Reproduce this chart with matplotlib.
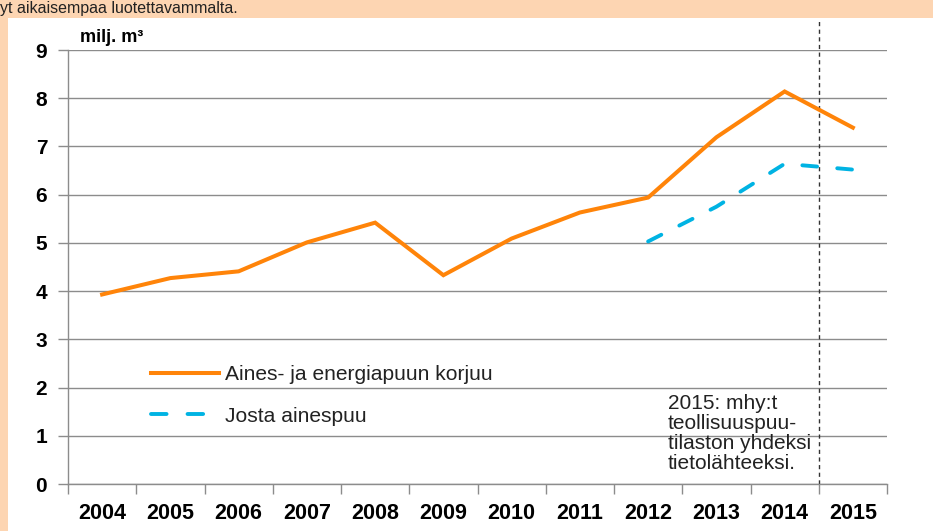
import matplotlib
matplotlib.use("Agg")
import matplotlib.pyplot as plt
from matplotlib.patches import Rectangle
from matplotlib.lines import Line2D

years = ["2004", "2005", "2006", "2007", "2008", "2009", "2010", "2011", "2012", "2013", "2014", "2015"]
harvest_total = [3.93, 4.27, 4.41, 5.01, 5.42, 4.33, 5.09, 5.63, 5.94, 7.19, 8.14, 7.39]
industrial_years = ["2012", "2013", "2014", "2015"]
industrial_wood = [5.03, 5.75, 6.64, 6.52]
y_ticks = [0, 1, 2, 3, 4, 5, 6, 7, 8, 9]
label_total = "Aines- ja energiapuun korjuu"
label_industrial = "Josta ainespuu"
note_text = "2015: mhy:t\nteollisuuspuu-\ntilaston yhdeksi\ntietolähteeksi."
unit_text = "milj. m³"
top_text = "yt aikaisempaa luotettavammalta."

plt.rcParams['font.family'] = ['Liberation Sans', 'DejaVu Sans']

W, H = 933, 531
fig = plt.figure(figsize=(W / 100, H / 100), dpi=100)
fig.patch.set_facecolor('white')
fig.patches.append(Rectangle((0, 1 - 18 / H), 1, 18 / H, transform=fig.transFigure,
                             facecolor='#FDD5B2', edgecolor='none', zorder=-5))
fig.patches.append(Rectangle((0, 0), 8 / W, 1, transform=fig.transFigure,
                             facecolor='#FDD5B2', edgecolor='none', zorder=-5))
fig.text(0, 1 - 13 / H, top_text, fontsize=11.5, color='#222222', va='baseline', ha='left')

left, right, top, bottom = 68, 887, 50, 484
ax = fig.add_axes([left / W, 1 - bottom / H, (right - left) / W, (bottom - top) / H])
ax.set_facecolor('none')

orange = '#FF8409'
blue = '#00B3E3'
xi = list(range(len(years)))
ax.plot(xi, harvest_total, color=orange, lw=2.9, solid_joinstyle='miter', zorder=3)
xi2 = [years.index(y) for y in industrial_years]
ax.plot(xi2, industrial_wood, color=blue, lw=2.8, dashes=(3.8, 5.2),
        dash_capstyle='round', zorder=3)

ax.set_xlim(-0.5, len(years) - 0.5)
ax.set_ylim(0, 9)
ax.set_yticks(y_ticks)
ax.set_yticklabels([str(v) for v in y_ticks], fontsize=15, fontweight='bold')
ax.yaxis.grid(True, color='#8C8C8C', lw=1.0)
ax.set_axisbelow(True)
ax.set_xticks(xi)
ax.set_xticklabels(years, fontsize=15.5, fontweight='bold')
ax.set_xticks([i - 0.5 for i in range(len(years) + 1)], minor=True)
ax.tick_params(axis='x', which='major', length=0, pad=14)
ax.tick_params(axis='x', which='minor', length=7, color='#8C8C8C', width=1)
ax.tick_params(axis='y', length=7, color='#8C8C8C', width=1, pad=8)

for s in ['top', 'right']:
    ax.spines[s].set_visible(False)
for s in ['left', 'bottom']:
    ax.spines[s].set_color('#8C8C8C')
    ax.spines[s].set_linewidth(1.0)

ax.plot([10.5, 10.5], [0, 9.63], color='#333333', lw=1.0, ls=(0, (3, 2.5)),
        clip_on=False, zorder=2)

handles = [Line2D([], [], color=orange, lw=2.9),
           Line2D([], [], color=blue, lw=2.8, dashes=(4.0, 5.4), dash_capstyle='round')]
leg = ax.legend(handles, [label_total, label_industrial], frameon=False,
                loc='upper left', bbox_to_anchor=((151 - left) / (right - left), (bottom - 365) / (bottom - top)),
                fontsize=15.1, handlelength=3.25, handletextpad=0.3, labelspacing=1.08,
                borderaxespad=0, borderpad=0)
for t in leg.get_texts():
    t.set_color('#222222')

ax.text((668 - left) / (right - left), (bottom - 394) / (bottom - top), note_text,
        transform=ax.transAxes, fontsize=15, color='#222222', va='top', ha='left',
        linespacing=1.07)

fig.text(80 / W, 1 - 42 / H, unit_text, fontsize=13, fontweight='bold', color='black',
         va='baseline', ha='left')

fig.savefig("out.png", dpi=100, facecolor=fig.get_facecolor())
